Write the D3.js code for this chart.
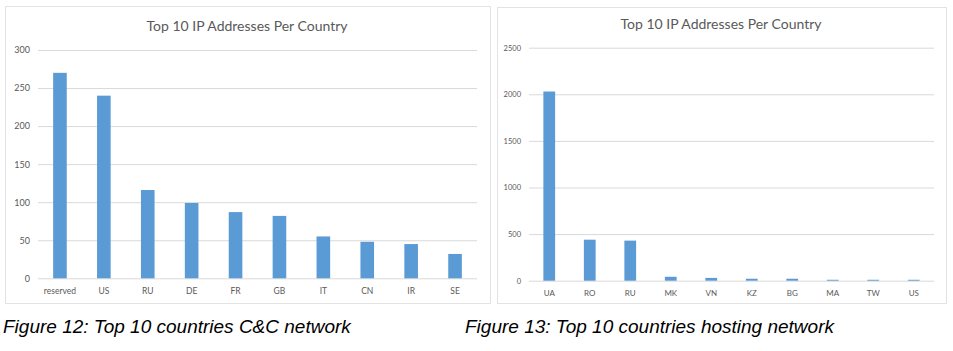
<!DOCTYPE html>
<html>
<head>
<meta charset="utf-8">
<script src="https://cdn.jsdelivr.net/npm/d3@7"></script>
<style>
  body { margin: 0; background: #fff; }
  svg { display: block; }
</style>
</head>
<body>
<div id="chart"></div>
<script>
// left: C&C network
const ccCountries = ["reserved", "US", "RU", "DE", "FR", "GB", "IT", "CN", "IR", "SE"];
const ccCounts = [270, 240, 116, 99, 87, 82, 55, 48, 45, 32];
const ccTicks = [0, 50, 100, 150, 200, 250, 300];

// right: hosting network
const hostCountries = ["UA", "RO", "RU", "MK", "VN", "KZ", "BG", "MA", "TW", "US"];
const hostCounts = [2030, 440, 430, 42, 30, 21, 21, 10, 10, 10];
const hostTicks = [0, 500, 1000, 1500, 2000, 2500];

const chartTitle = "Top 10 IP Addresses Per Country";
const captions = ["Figure 12: Top 10 countries C&C network", "Figure 13: Top 10 countries hosting network"];

const barColor = "#5b9bd5";
const gridColor = "#d9d9d9";
const textColor = "#595959";

const svg = d3.select("#chart").append("svg")
  .attr("width", 953)
  .attr("height", 351);

function drawChart(opts) {
  const g = svg.append("g");

  // frame
  g.append("rect")
    .attr("x", opts.frame[0] + 0.5)
    .attr("y", opts.frame[1] + 0.5)
    .attr("width", opts.frame[2])
    .attr("height", opts.frame[3])
    .attr("fill", "#fff")
    .attr("stroke", "#e3e3e3");

  const x = d3.scaleBand()
    .domain(opts.cats)
    .range(opts.xRange)
    .paddingInner(opts.pad)
    .paddingOuter(opts.pad / 2);

  const y = d3.scaleLinear()
    .domain([0, opts.max])
    .range(opts.yRange);

  // gridlines + y labels
  const yAxis = d3.axisLeft(y)
    .tickValues(opts.ticks)
    .tickFormat(d3.format("d"))
    .tickSize(-(opts.xRange[1] - opts.xRange[0]))
    .tickPadding(opts.tickPad);
  const ya = g.append("g")
    .attr("transform", `translate(${opts.xRange[0]},0)`)
    .call(yAxis);
  ya.select(".domain").remove();
  ya.selectAll(".tick line").attr("stroke", gridColor);
  ya.selectAll(".tick text")
    .attr("fill", textColor)
    .style("font-family", "Lato, 'Open Sans', sans-serif")
    .style("font-size", opts.yFont + "px");

  // bars
  g.selectAll(".bar")
    .data(opts.vals)
    .join("rect")
    .attr("class", "bar")
    .attr("x", (d, i) => x(opts.cats[i]))
    .attr("width", x.bandwidth())
    .attr("y", d => y(d))
    .attr("height", d => y(0) - y(d))
    .attr("fill", barColor);

  // x labels
  const xa = g.append("g")
    .attr("transform", `translate(0,${opts.yRange[0]})`)
    .call(d3.axisBottom(x).tickSize(0).tickPadding(opts.xPad));
  xa.select(".domain").remove();
  xa.selectAll(".tick text")
    .attr("fill", textColor)
    .style("font-family", "Lato, 'Open Sans', sans-serif")
    .style("font-size", opts.xFont + "px");

  // title
  g.append("text")
    .attr("x", opts.titleX)
    .attr("y", opts.titleY)
    .attr("text-anchor", "middle")
    .attr("fill", textColor)
    .style("font-family", "Lato, 'Open Sans', sans-serif")
    .style("font-size", "14px")
    .text(chartTitle);

  // caption
  svg.append("text")
    .attr("x", opts.capX)
    .attr("y", 333)
    .attr("fill", "#000")
    .style("font-family", "'Liberation Sans', Arial, sans-serif")
    .style("font-style", "italic")
    .style("font-size", "19px")
    .text(opts.caption);
}

drawChart({
  frame: [5, 6, 485, 297],
  cats: ccCountries,
  vals: ccCounts,
  ticks: ccTicks,
  max: 300,
  xRange: [38, 477],
  yRange: [278.3, 50],
  pad: 0.69,
  tickPad: 8,
  yFont: 9,
  xFont: 8.5,
  xPad: 10,
  titleX: 247,
  titleY: 31,
  capX: 3,
  caption: captions[0]
});

drawChart({
  frame: [497, 7, 449, 296],
  cats: hostCountries,
  vals: hostCounts,
  ticks: hostTicks,
  max: 2500,
  xRange: [529, 934],
  yRange: [280.7, 47.7],
  pad: 0.71,
  tickPad: 8,
  yFont: 7.5,
  xFont: 8,
  xPad: 10,
  titleX: 721,
  titleY: 29,
  capX: 465,
  caption: captions[1]
});
</script>
</body>
</html>
